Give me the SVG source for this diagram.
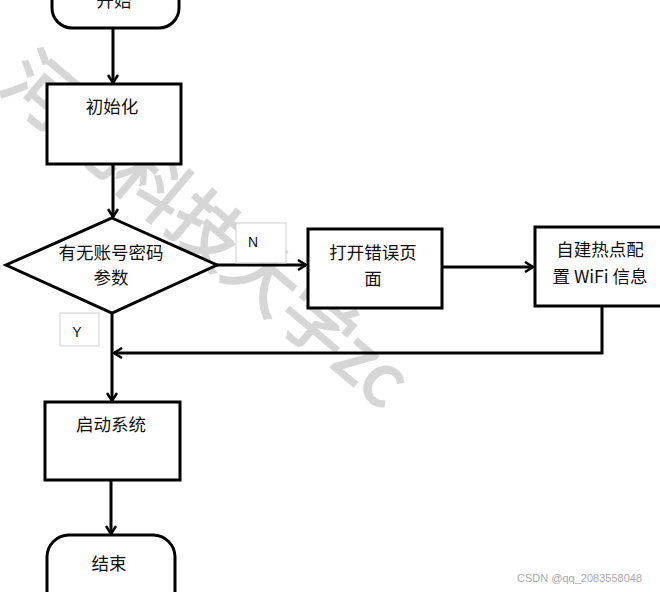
<svg xmlns="http://www.w3.org/2000/svg" width="660" height="592" viewBox="0 0 660 592">
  <style>
    .shape { fill: #fff; stroke: #000; stroke-width: 3; }
    .conn { fill: none; stroke: #000; stroke-width: 3; }
    .t { font-family: "Noto Sans CJK SC", "Liberation Sans", sans-serif; font-size: 17.5px; fill: #111; text-anchor: middle; }
    .lbl { fill: #fff; stroke: #cfcfcf; stroke-width: 1; }
    .lt { font-family: "Liberation Sans", "DejaVu Sans", sans-serif; font-size: 14px; fill: #111; text-anchor: middle; }
    .wm { font-family: "Noto Sans CJK SC", "Liberation Sans", sans-serif; font-size: 72px; fill: #d6d6d6; stroke: #d6d6d6; stroke-width: 2; }
  </style>
  <defs>
    <marker id="arr" viewBox="0 0 12 12" refX="10" refY="6" markerWidth="12" markerHeight="12" markerUnits="userSpaceOnUse" orient="auto">
      <path d="M2,1 L10,6 L2,11" fill="none" stroke="#000" stroke-width="2.5"/>
    </marker>
  </defs>

  <rect width="660" height="592" fill="#fff"/>

  <text class="wm" transform="translate(-2,88) rotate(40)">河北科技大学zc</text>

  <g id="connectors">
    <line class="conn" x1="113" y1="28" x2="113" y2="83" marker-end="url(#arr)"/>
    <line class="conn" x1="113" y1="164" x2="113" y2="217" marker-end="url(#arr)"/>
    <line class="conn" x1="217" y1="265" x2="306" y2="265" marker-end="url(#arr)"/>
    <line class="conn" x1="442" y1="267" x2="533" y2="267" marker-end="url(#arr)"/>
    <polyline class="conn" points="602,306 602,353 114,353" marker-end="url(#arr)"/>
    <line class="conn" x1="112" y1="313" x2="112" y2="401" marker-end="url(#arr)"/>
    <line class="conn" x1="111" y1="480" x2="111" y2="534" marker-end="url(#arr)"/>
  </g>

  <g id="start">
    <rect class="shape" x="52" y="-40" width="127" height="68" rx="20"/>
    <text class="t" x="114" y="7">开始</text>
  </g>

  <g id="init">
    <rect class="shape" x="47" y="84" width="134" height="80"/>
    <text class="t" x="112" y="113">初始化</text>
  </g>

  <g id="decision">
    <polygon class="shape" points="112,218 217,265 112,313 6,265"/>
    <text class="t" x="111" y="259">有无账号密码</text>
    <text class="t" x="111" y="284">参数</text>
  </g>

  <g id="label-n">
    <rect class="lbl" x="236" y="223" width="50" height="40"/>
    <text class="lt" x="253" y="247">N</text>
  </g>

  <g id="label-y">
    <rect class="lbl" x="60" y="313" width="39" height="33"/>
    <text class="lt" x="77" y="337">Y</text>
  </g>

  <g id="error-page">
    <rect class="shape" x="308" y="229" width="134" height="79"/>
    <text class="t" x="373" y="259">打开错误页</text>
    <text class="t" x="373" y="285">面</text>
  </g>

  <g id="hotspot">
    <rect class="shape" x="535" y="227" width="130" height="79"/>
    <text class="t" x="600" y="256">自建热点配</text>
    <text class="t" x="600" y="283">置 WiFi 信息</text>
  </g>

  <g id="boot">
    <rect class="shape" x="45" y="402" width="135" height="78"/>
    <text class="t" x="111" y="431">启动系统</text>
  </g>

  <g id="end">
    <rect class="shape" x="47" y="535" width="128" height="95" rx="22"/>
    <text class="t" x="109" y="570">结束</text>
  </g>

  <text x="642" y="582" font-family="Liberation Sans, DejaVu Sans, sans-serif" font-size="11" fill="#aaa" text-anchor="end">CSDN @qq_2083558048</text>
</svg>
